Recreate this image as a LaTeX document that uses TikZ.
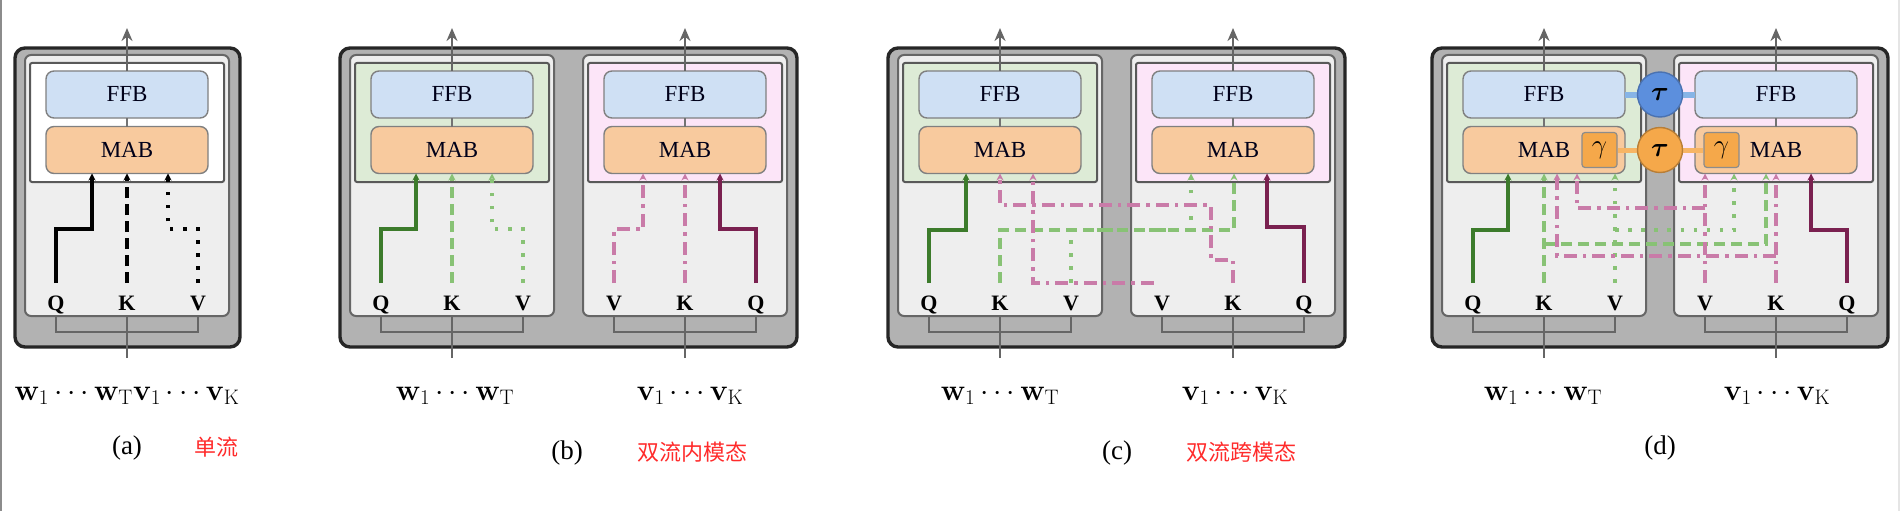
\RequirePackage{fix-cm}
\documentclass[tikz,border=0pt]{standalone}
\usepackage{amsmath,amssymb}
\usepackage[no-math]{fontspec}
\setmainfont{Liberation Serif}
\newfontfamily\cjk{Noto Sans CJK SC}
\usepackage{xcolor}
\definecolor{darkbox}{HTML}{B2B2B2}
\definecolor{lightbox}{HTML}{EEEEEE}
\definecolor{areagreen}{HTML}{DDEBD6}
\definecolor{areapink}{HTML}{FCE5F8}
\definecolor{ffbblue}{HTML}{CFE0F4}
\definecolor{mabor}{HTML}{F8CA9E}
\definecolor{gammaor}{HTML}{F5A84A}
\definecolor{taublue}{HTML}{5C8FDD}
\definecolor{linkblue}{HTML}{86B4E6}
\definecolor{qgreen}{HTML}{3C7B2B}
\definecolor{kgreen}{HTML}{88C275}
\definecolor{qmaroon}{HTML}{7A2150}
\definecolor{kpink}{HTML}{C97BA8}
\definecolor{capred}{HTML}{FF2B2B}
\usepackage{tikz}
\usetikzlibrary{positioning,arrows.meta}

% one stream column: name, centre x, colour of the block area, 1 = Q K V / -1 = V K Q
\newcommand{\streamcol}[4]{%
	\node[inbox] (#1-in) at (#2,185.5) {};
	\node[areabox,fill=#3] (#1-area) at (#2,122.5) {};
	\node[ffbbox] (#1-ffb) at (#2,94.5) {FFB};
	\node[mabbox] (#1-mab) at (#2,150) {MAB};
	\draw[thinlink] (#1-ffb) -- (#1-mab);
	\draw[outarrow] (#1-ffb.north) -- (#2,28);
	\node[qkv] (#1-q) at ({#2-71*#4},310) {Q};
	\node[qkv] (#1-k) at (#2,310) {K};
	\node[qkv] (#1-v) at ({#2+71*#4},310) {V};
	\draw[bracket] (#1-q |- #1-in.south) -- ({#2-71*#4},332) -- ({#2+71*#4},332) -- (#1-v |- #1-in.south);
	\draw[bracket] (#2,358) -- (#1-in.south);
}

\begin{document}
\begin{tikzpicture}
		[x=1pt,y=-1pt,>={Stealth[length=7pt,width=7pt]},
		outerbox/.style={draw=black!85,line width=3.4pt,fill=darkbox,rounded corners=10pt},
		inbox/.style={draw=black!60,line width=2pt,fill=lightbox,rounded corners=6pt,minimum width=204pt,minimum height=261pt,inner sep=0pt,outer sep=0pt},
		areabox/.style={draw=black!65,line width=2pt,rounded corners=2pt,minimum width=194pt,minimum height=119pt,inner sep=0pt,outer sep=0pt},
		block/.style={draw=black!50,line width=1.4pt,rounded corners=8pt,minimum width=162pt,minimum height=47pt,inner sep=0pt,outer sep=0pt,text=black!90!blue,font=\fontsize{23}{26}\selectfont},
		ffbbox/.style={block,fill=ffbblue},
		mabbox/.style={block,fill=mabor},
		thinlink/.style={draw=black!55,line width=1.2pt},
		outarrow/.style={draw=black!60,line width=2.2pt,-{Stealth[length=13pt,width=11pt]}},
		bracket/.style={draw=black!60,line width=2.2pt},
		qkv/.style={anchor=base,inner sep=0pt,font=\fontsize{22}{24}\selectfont\bfseries},
		vec/.style={anchor=base,inner sep=0pt,font=\fontsize{30}{36}\selectfont},
		caption/.style={anchor=base,inner sep=0pt,font=\fontsize{27}{30}\selectfont},
		cntext/.style={inner sep=0pt,text=capred,font=\cjk\fontsize{22}{26}\selectfont},
		qline/.style={line width=3.4pt,->},
		kline/.style={line width=3.2pt,dash pattern=on 11pt off 6pt,->},
		vline/.style={line width=3.6pt,dash pattern=on 3.6pt off 9.5pt,->},
		xline/.style={line width=3.2pt,dash pattern=on 13pt off 6pt on 3.5pt off 6pt,->},
		gammabox/.style={draw=black!45,line width=1.2pt,fill=gammaor,rounded corners=3pt,minimum size=35pt,inner sep=0pt,font=\fontsize{27}{30}\selectfont},
		taunode/.style={circle,line width=1.4pt,minimum size=45pt,inner sep=0pt,font=\fontsize{27}{30}\selectfont}]
	\useasboundingbox (0,0) rectangle (1901,511);
	\draw[black!45,line width=2pt] (1,0) -- (1,511);
	\draw[black!10,line width=1.5pt] (1899,0) -- (1899,511);

	% outer frames
	\draw[outerbox] (15,48) rectangle (240,347);
	\draw[outerbox] (340,48) rectangle (797,347);
	\draw[outerbox] (888,48) rectangle (1345,347);
	\draw[outerbox] (1432,48) rectangle (1888,347);

	% (a) single stream
	\streamcol{a}{127}{white}{1}
	\draw[qline,black] (a-q |- 0,283) |- (92,229) -- (92,0 |- a-mab.south);
	\draw[kline,black] (a-k |- 0,283) -- (a-mab.south);
	\draw[vline,black] (a-v |- 0,283) |- (168,229) -- (168,0 |- a-mab.south);
	\node[vec] (a-words) at (127,400) {$\mathbf{w}_1\cdots\mathbf{w}_{\mathrm{T}}\mathbf{v}_1\cdots\mathbf{v}_{\mathrm{K}}$};
	\node[caption] (a-cap) at (127,454) {(a)};
	\node[cntext] (a-cn) at (216,447) {单流};

	% (b) two streams, intra-modal
	\streamcol{bL}{452}{areagreen}{1}
	\streamcol{bR}{685}{areapink}{-1}
	\draw[qline,qgreen] (bL-q |- 0,283) |- (416,229) -- (416,0 |- bL-mab.south);
	\draw[kline,kgreen] (bL-k |- 0,283) -- (bL-mab.south);
	\draw[vline,kgreen] (bL-v |- 0,283) |- (492,229) -- (492,0 |- bL-mab.south);
	\draw[xline,kpink] (bR-v |- 0,283) |- (643,229) -- (643,0 |- bR-mab.south);
	\draw[xline,kpink] (bR-k |- 0,283) -- (bR-mab.south);
	\draw[qline,qmaroon] (bR-q |- 0,283) |- (720,229) -- (720,0 |- bR-mab.south);
	\node[vec] (bL-words) at (455,400) {$\mathbf{w}_1\cdots\mathbf{w}_{\mathrm{T}}$};
	\node[vec] (bR-words) at (690,400) {$\mathbf{v}_1\cdots\mathbf{v}_{\mathrm{K}}$};
	\node[caption] (b-cap) at (567,459) {(b)};
	\node[cntext] (b-cn) at (692,452) {双流内模态};

	% (c) two streams, cross-modal
	\streamcol{cL}{1000}{areagreen}{1}
	\streamcol{cR}{1233}{areapink}{-1}
	\draw[qline,qgreen] (cL-q |- 0,283) |- (966,230) -- (966,0 |- cL-mab.south);
	\draw[kline,kgreen] (cL-k |- 0,283) |- (1234,230) -- (1234,0 |- cR-mab.south);
	\draw[vline,kgreen] (cL-v |- 0,283) |- (1191,230) -- (1191,0 |- cR-mab.south);
	\draw[xline,kpink] (cR-k |- 0,283) |- (1211,260) |- (1000,205) -- (1000,0 |- cL-mab.south);
	\draw[xline,kpink] (cR-v.west |- 0,283) -- (1033,283) -- (1033,0 |- cL-mab.south);
	\draw[qline,qmaroon] (cR-q |- 0,283) |- (1267,227) -- (1267,0 |- cR-mab.south);
	\node[vec] (cL-words) at (1000,400) {$\mathbf{w}_1\cdots\mathbf{w}_{\mathrm{T}}$};
	\node[vec] (cR-words) at (1235,400) {$\mathbf{v}_1\cdots\mathbf{v}_{\mathrm{K}}$};
	\node[caption] (c-cap) at (1117,459) {(c)};
	\node[cntext] (c-cn) at (1241,452) {双流跨模态};

	% (d) two streams, cross-modal with gates
	\streamcol{dL}{1544}{areagreen}{1}
	\streamcol{dR}{1776}{areapink}{-1}
	\node[gammabox] (dL-gamma) at (1599.5,150) {$\gamma$};
	\node[gammabox] (dR-gamma) at (1721.5,150) {$\gamma$};
	\draw[linkblue,line width=6pt] (dL-ffb.east) -- (dR-ffb.west);
	\draw[gammaor!85,line width=5pt] (dL-gamma.east) -- (dR-gamma.west);
	\node[taunode,draw=taublue!80!black,fill=taublue] (tau-ffb) at (1660,94.5) {$\boldsymbol{\tau}$};
	\node[taunode,draw=gammaor!75!black,fill=gammaor] (tau-mab) at (1660,150) {$\boldsymbol{\tau}$};
	\draw[qline,qgreen] (dL-q |- 0,283) |- (1508,230) -- (1508,0 |- dL-mab.south);
	\draw[kline,kgreen] (dL-k |- 0,283) -- (dL-mab.south);
	\draw[kline,kgreen] (dL-k |- 0,244) -| (1766,0 |- dR-mab.south);
	\draw[vline,kgreen] (dL-v |- 0,283) -- (dL-v |- dL-mab.south);
	\draw[vline,kgreen] (dL-v |- 0,230) -| (1734,0 |- dR-mab.south);
	\draw[xline,kpink] (dR-v |- 0,283) -- (dR-v |- dR-mab.south);
	\draw[xline,kpink] (dR-v |- 0,208) -| (1577,0 |- dL-mab.south);
	\draw[xline,kpink] (dR-k |- 0,283) -- (dR-k |- dR-mab.south);
	\draw[xline,kpink] (dR-k |- 0,256) -| (1557,0 |- dL-mab.south);
	\draw[qline,qmaroon] (dR-q |- 0,283) |- (1811,230) -- (1811,0 |- dR-mab.south);
	\node[vec] (dL-words) at (1543,400) {$\mathbf{w}_1\cdots\mathbf{w}_{\mathrm{T}}$};
	\node[vec] (dR-words) at (1777,400) {$\mathbf{v}_1\cdots\mathbf{v}_{\mathrm{K}}$};
	\node[caption] (d-cap) at (1660,454) {(d)};
\end{tikzpicture}
\end{document}
